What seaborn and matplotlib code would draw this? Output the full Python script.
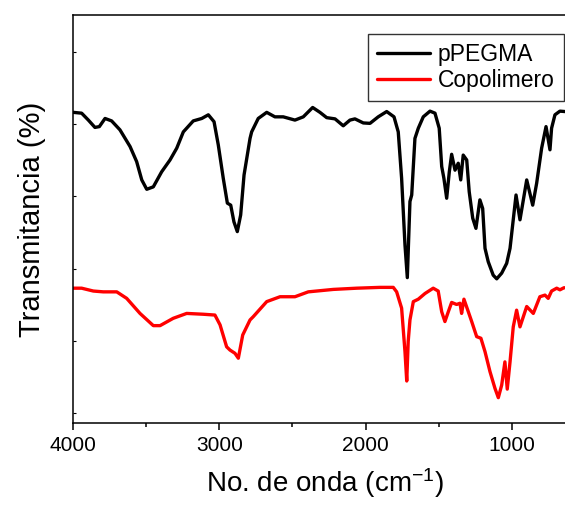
import numpy as np
import pandas as pd
import matplotlib
matplotlib.use("Agg")
import matplotlib.pyplot as plt
import seaborn as sns

# FTIR spectra: wavenumber (cm-1) and transmittance (arbitrary offset units)
ppegma_wn = [3998, 3941, 3895, 3850, 3820, 3781, 3736, 3679, 3610, 3565, 3530, 3496,
             3451, 3394, 3337, 3291, 3246, 3178, 3120, 3075, 3036, 3007, 2973, 2945,
             2922, 2900, 2877, 2854, 2831, 2790, 2779, 2734, 2676, 2620, 2563, 2483,
             2426, 2362, 2312, 2266, 2209, 2153, 2107, 2073, 2016, 1970, 1914, 1856,
             1806, 1777, 1754, 1731, 1715, 1697, 1685, 1663, 1640, 1606, 1560, 1526,
             1497, 1480, 1465, 1446, 1428, 1412, 1389, 1367, 1350, 1333, 1309, 1292,
             1268, 1246, 1219, 1200, 1184, 1162, 1128, 1104, 1070, 1036, 1013, 972,
             945, 899, 858, 831, 797, 767, 740, 729, 706, 672, 638, 600]
ppegma_t = [76.2, 76.0, 74.3, 72.5, 72.7, 74.7, 74.1, 71.9, 67.8, 64.1, 59.6, 57.3,
            57.9, 61.6, 64.5, 67.4, 71.4, 74.1, 74.7, 75.6, 73.9, 68.2, 60.0, 53.9,
            53.4, 49.3, 46.9, 51.0, 60.8, 69.8, 71.4, 74.7, 76.2, 75.1, 75.1, 74.3,
            75.1, 77.4, 76.2, 74.9, 74.6, 72.9, 74.3, 74.6, 73.6, 73.5, 75.1, 76.4,
            75.1, 71.4, 60.0, 43.6, 35.6, 54.3, 55.9, 69.8, 72.3, 75.1, 76.5, 76.0,
            72.3, 62.9, 60.0, 55.1, 61.6, 65.9, 62.0, 63.7, 59.6, 65.7, 64.5, 56.7,
            50.2, 47.7, 54.7, 52.6, 42.8, 39.5, 36.2, 35.3, 36.7, 39.1, 42.8, 55.9,
            49.8, 59.6, 53.4, 58.8, 67.4, 72.7, 67.0, 72.3, 75.6, 76.5, 76.4, 76.4]

copol_wn = [3998, 3941, 3861, 3793, 3701, 3633, 3542, 3451, 3405, 3315, 3223, 3110,
            3030, 2995, 2950, 2927, 2893, 2870, 2840, 2790, 2768, 2676, 2585, 2483,
            2392, 2221, 2061, 1902, 1811, 1788, 1754, 1731, 1719, 1709, 1697, 1674,
            1640, 1594, 1538, 1504, 1480, 1458, 1435, 1412, 1378, 1355, 1344, 1328,
            1298, 1275, 1241, 1212, 1184, 1150, 1116, 1093, 1070, 1048, 1032, 1013,
            991, 968, 945, 899, 854, 809, 774, 752, 729, 694, 672, 645, 600]
copol_t = [33.0, 33.0, 32.3, 32.1, 32.1, 30.5, 26.8, 23.8, 23.8, 25.6, 26.8, 26.6,
           26.4, 24.0, 18.6, 17.8, 17.0, 15.8, 21.5, 25.2, 26.0, 29.7, 30.9, 30.9,
           32.1, 32.7, 33.0, 33.2, 33.2, 32.1, 28.1, 17.4, 10.2, 19.9, 25.2, 29.7,
           30.3, 31.7, 33.0, 32.3, 27.2, 24.8, 27.2, 29.5, 29.0, 29.3, 26.8, 30.3,
           27.2, 24.8, 21.1, 20.7, 17.4, 12.5, 8.4, 6.1, 9.2, 14.9, 8.2, 14.9,
           23.5, 27.6, 23.5, 28.5, 26.8, 30.9, 31.3, 30.5, 32.3, 33.0, 32.6, 33.1, 33.1]

series_names = ["pPEGMA", "Copolimero"]
series_colors = {"pPEGMA": "#000000", "Copolimero": "#ff0000"}

x_ticks = [4000, 3000, 2000, 1000]
x_minor = [3500, 2500, 1500]
y_ticks = [2.3, 20.0, 37.8, 55.6, 73.3, 91.1]

df = pd.concat([
    pd.DataFrame({"wn": ppegma_wn, "T": ppegma_t, "serie": series_names[0]}),
    pd.DataFrame({"wn": copol_wn, "T": copol_t, "serie": series_names[1]}),
])

sns.set_style("ticks")
plt.rcParams["font.family"] = ["Liberation Sans", "DejaVu Sans"]
plt.rcParams["mathtext.default"] = "regular"
for key in ["text.color", "axes.labelcolor", "xtick.color", "ytick.color", "axes.edgecolor"]:
    plt.rcParams[key] = "black"

fig = plt.figure(figsize=(5.65, 5.08), dpi=100)
ax = fig.add_axes([0.1292, 0.1683, 0.8903, 0.8012])

sns.lineplot(data=df, x="wn", y="T", hue="serie", hue_order=series_names,
             palette=series_colors, sort=False, estimator=None,
             linewidth=2.4, ax=ax, legend=True)

ax.set_xlim(4000, 562)
ax.set_ylim(0, 100)
ax.set_xticks(x_ticks)
ax.set_xticks(x_minor, minor=True)
ax.set_xticklabels([str(v) for v in x_ticks])
ax.set_yticks(y_ticks)
ax.set_yticklabels([])
ax.tick_params(axis="x", which="major", direction="out", length=5, width=1.1,
               labelsize=15, pad=5, colors="black")
ax.tick_params(axis="x", which="minor", direction="out", length=3, width=1.1, colors="black")
ax.tick_params(axis="y", which="major", direction="in", length=2.5, width=0.8,
               left=True, colors="black")
for sp in ax.spines.values():
    sp.set_linewidth(1.1)
    sp.set_color("black")
ax.spines["right"].set_visible(False)

ax.set_xlabel("No. de onda (cm$^{-1}$)", fontsize=20, labelpad=8)
ax.set_ylabel("Transmitancia (%)", fontsize=21, labelpad=16)

leg = ax.legend(loc="upper right", bbox_to_anchor=(0.976, 0.954), borderaxespad=0,
                fontsize=16.5, frameon=True, fancybox=False, handlelength=2.3,
                handletextpad=0.35, borderpad=0.4, labelspacing=0.12)
leg.get_frame().set_edgecolor("black")
leg.get_frame().set_linewidth(1.0)
for line in leg.get_lines():
    line.set_linewidth(2.4)

fig.savefig("out.png", dpi=100)
